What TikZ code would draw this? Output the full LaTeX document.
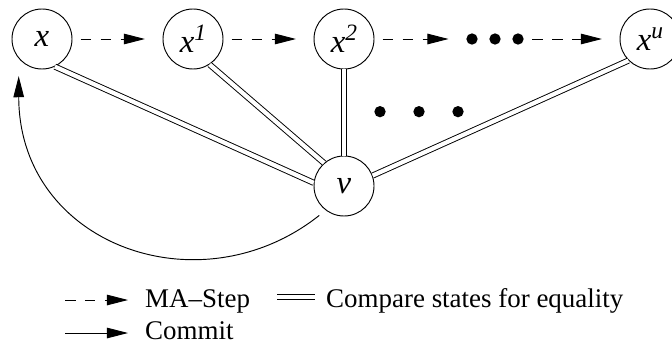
\documentclass[tikz,border=0pt]{standalone}
\usepackage{fontspec}
\setmainfont{Liberation Serif}
\usetikzlibrary{arrows.meta}
\newcommand{\supr}[1]{\raisebox{10pt}{\fontsize{20}{20}\selectfont #1}}

\begin{document}
\begin{tikzpicture}[
  state/.style={circle,draw,line width=0.8pt,minimum size=1.8cm,inner sep=0pt,
    font=\fontsize{28}{30}\selectfont\itshape},
  blob/.style={circle,fill,minimum size=0.34cm,inner sep=0pt},
  mastep/.style={line width=0.8pt,dash pattern=on 9pt off 8pt,-{Triangle[length=18pt,width=9pt]}},
  commit/.style={line width=0.8pt,-{Triangle[length=18pt,width=9pt]}},
  cmp/.style={double,double distance=3.6pt,line width=0.8pt},
  gap/.style={shorten <=7pt,shorten >=15pt},
  legend/.style={anchor=base west,inner sep=0pt,font=\fontsize{23}{25}\selectfont}]
  \useasboundingbox (0,0) rectangle (20.16,10.35);
  \node[state] (x)  at (1.26,9.18)  {x};
  \node[state] (x1) at (5.79,9.18)  {x\supr{1}};
  \node[state] (x2) at (10.32,9.18) {x\supr{2}};
  \node[state] (xu) at (19.5,9.18)  {x\supr{u}};
  \node[state] (v)  at (10.32,4.77) {v};
  \node[blob] (d1) at (14.16,9.18) {};
  \node[blob] (d2) at (14.85,9.18) {};
  \node[blob] (d3) at (15.54,9.18) {};
  \node[blob] (e1) at (11.4,7.0)  {};
  \node[blob] (e2) at (12.57,7.0) {};
  \node[blob] (e3) at (13.74,7.0) {};
  \draw[mastep,gap] (x) -- (x1);
  \draw[mastep,gap] (x1) -- (x2);
  \draw[mastep,gap] (x2) -- (d1);
  \draw[mastep,gap] (d3) -- (xu);
  \draw[cmp] (x.295) -- (v.174);
  \draw[cmp] (x1.303) -- (v.131);
  \draw[cmp] (x2) -- (v);
  \draw[cmp] (xu.225) -- (v.20);
  \draw[commit,gap] (v.233) .. controls (6.0,1.05) and (0.57,3.0) .. (x.220);
  \coordinate (ma0) at (1.95,1.35);
  \coordinate (ma1) at (3.84,1.35);
  \coordinate (cm0) at (8.31,1.44);
  \coordinate (cm1) at (9.45,1.44);
  \coordinate (co0) at (1.95,0.36);
  \coordinate (co1) at (3.84,0.36);
  \draw[mastep] (ma0) -- (ma1);
  \draw[cmp] (cm0) -- (cm1);
  \draw[commit] (co0) -- (co1);
  \node[legend] (mal) at (4.35,1.14) {MA--Step};
  \node[legend] (cml) at (9.78,1.14) {Compare states for equality};
  \node[legend] (col) at (4.35,0.18) {Commit};
\end{tikzpicture}
\end{document}
